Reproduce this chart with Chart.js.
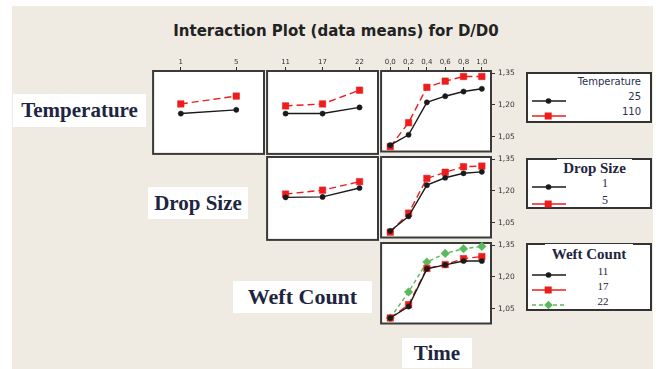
<!DOCTYPE html>
<html>
<head>
<meta charset="utf-8">
<script src="https://cdn.jsdelivr.net/npm/chart.js@4/dist/chart.umd.min.js"></script>
<style>
  html, body { margin:0; padding:0; background:#fff; }
  body { width:656px; height:369px; position:relative; overflow:hidden; }
  #bg { position:absolute; left:12px; top:6px; width:641px; height:363px; background:#efebe2; }
  canvas { position:absolute; }
  .lbl { position:absolute; background:#fff; font-family:"Liberation Serif", serif; font-weight:bold; color:#1e2540;
         display:flex; align-items:center; justify-content:center; white-space:nowrap; }
  #title { position:absolute; left:0; width:672px; top:22px; text-align:center; font-family:"DejaVu Sans", sans-serif;
           font-weight:bold; font-size:15px; color:#222; }
  .leg { position:absolute; border:2px solid #333; background:#fff; box-sizing:border-box; }
  .legt { position:absolute; white-space:nowrap; }
  .sw { position:absolute; }
</style>
</head>
<body>
<div id="bg"></div>
<div id="title">Interaction Plot (data means) for D/D0</div>

<div class="lbl" style="left:13px;top:94px;width:133px;height:33px;font-size:21px;">Temperature</div>
<div class="lbl" style="left:148px;top:187px;width:100px;height:32px;font-size:21px;">Drop Size</div>
<div class="lbl" style="left:233px;top:281px;width:139px;height:32px;font-size:22px;">Weft Count</div>
<div class="lbl" style="left:402px;top:338px;width:70px;height:30px;font-size:21px;">Time</div>

<div id="legends"></div>

<script>
// ---------------- data ----------------
const dropSizeLabels = ['1', '5'];
const weftLabels = ['11', '17', '22'];
const timeLabels = ['0,0', '0,2', '0,4', '0,6', '0,8', '1,0'];
const yTicks = [1.05, 1.20, 1.35];

const temperatureLevels = ['25', '110'];
const dropSizeLevels = ['1', '5'];
const weftLevels = ['11', '17', '22'];

// Row 1: Temperature series
const temp25_byDrop  = [1.165, 1.182];
const temp110_byDrop = [1.209, 1.245];
const temp25_byWeft  = [1.165, 1.165, 1.193];
const temp110_byWeft = [1.200, 1.209, 1.272];
const temp25_byTime  = [1.010, 1.059, 1.212, 1.241, 1.263, 1.276];
const temp110_byTime = [1.003, 1.116, 1.283, 1.312, 1.334, 1.334];

// Row 2: Drop Size series
const drop1_byWeft = [1.175, 1.177, 1.218];
const drop5_byWeft = [1.190, 1.208, 1.247];
const drop1_byTime = [1.011, 1.080, 1.227, 1.262, 1.283, 1.290];
const drop5_byTime = [1.005, 1.095, 1.259, 1.288, 1.314, 1.317];

// Row 3: Weft Count series
const weft11_byTime = [1.006, 1.060, 1.238, 1.257, 1.275, 1.275];
const weft17_byTime = [1.006, 1.069, 1.240, 1.258, 1.286, 1.296];
const weft22_byTime = [1.006, 1.129, 1.270, 1.311, 1.333, 1.344];

// ---------------- styles ----------------
const YMIN = 0.98, YMAX = 1.36;
const STY = [
  { color:'#1a1a1a', dash:[], legDash:[], point:'circle', r:2.6 },
  { color:'#ee1d1d', dash:[7,4], legDash:[], point:'rect', r:4.6 },
  { color:'#5cb85c', dash:[4,3], legDash:[4,3], point:'rectRot', r:4.3 }
];
const COLS = [150, 264, 378];
const COLW = [114, 114, 113];
const ROWS = [71, 157, 243];
const ROWH = 86;
const PADL = 2, PADB = 2, TOPH = 18, RIGHTW = 34;

const framePlugin = {
  id: 'frame',
  beforeDatasetsDraw(chart) {
    const a = chart.chartArea, ctx = chart.ctx;
    ctx.save();
    ctx.fillStyle = '#ffffff';
    ctx.fillRect(a.left, a.top, a.right - a.left, a.bottom - a.top);
    ctx.strokeStyle = '#3a3a3a';
    ctx.lineWidth = 2;
    ctx.strokeRect(a.left, a.top, a.right - a.left, a.bottom - a.top);
    ctx.restore();
  }
};

function ds(label, data, i) {
  const s = STY[i];
  return {
    label, data,
    borderColor: s.color, backgroundColor: s.color,
    borderWidth: 1.4, borderDash: s.dash,
    pointStyle: s.point, pointRadius: s.r, pointBorderWidth: 0.5,
    pointBackgroundColor: s.color, pointBorderColor: s.color,
    tension: 0, clip: false
  };
}

function panel(col, row, xLabels, datasets, showTop, showRight) {
  const left = COLS[col], top = ROWS[row], w = COLW[col], h = ROWH;
  const c = document.createElement('canvas');
  const cw = w + PADL + RIGHTW, ch = h + TOPH + PADB;
  c.width = cw; c.height = ch;
  c.style.left = (left - PADL) + 'px';
  c.style.top = (top - TOPH) + 'px';
  c.style.width = cw + 'px'; c.style.height = ch + 'px';
  document.body.appendChild(c);
  new Chart(c, {
    type: 'line',
    data: { labels: xLabels, datasets },
    options: {
      responsive: false, animation: false, devicePixelRatio: 1,
      layout: { padding: { left: PADL, right: 0, top: 0, bottom: PADB } },
      plugins: { legend: { display: false }, tooltip: { enabled: false } },
      scales: {
        x: {
          type: 'category', position: 'top', offset: true,
          grid: { display: showTop, drawOnChartArea: false, offset: false, tickLength: 4, color: '#333', lineWidth: 1 },
          border: { display: false },
          ticks: { display: showTop, autoSkip: false, maxRotation: 0, padding: 1, color: '#333',
                   font: { family: 'DejaVu Sans', size: 7 } },
          afterFit: s => { s.height = TOPH; }
        },
        y: {
          type: 'linear', position: 'right', min: YMIN, max: YMAX,
          grid: { display: showRight, drawOnChartArea: false, tickLength: 4, color: '#333', lineWidth: 1 },
          border: { display: false },
          ticks: { display: showRight, padding: 3, color: '#333', font: { family: 'DejaVu Sans', size: 7.5 },
                   callback: v => v.toFixed(2).replace('.', ',') },
          afterBuildTicks: s => { s.ticks = yTicks.map(v => ({ value: v })); },
          afterFit: s => { s.width = RIGHTW; }
        }
      }
    },
    plugins: [framePlugin]
  });
}

// Row 1: Temperature
panel(0, 0, dropSizeLabels, [ds(temperatureLevels[0], temp25_byDrop, 0), ds(temperatureLevels[1], temp110_byDrop, 1)], true, false);
panel(1, 0, weftLabels, [ds(temperatureLevels[0], temp25_byWeft, 0), ds(temperatureLevels[1], temp110_byWeft, 1)], true, false);
panel(2, 0, timeLabels, [ds(temperatureLevels[0], temp25_byTime, 0), ds(temperatureLevels[1], temp110_byTime, 1)], true, true);
// Row 2: Drop Size
panel(1, 1, weftLabels, [ds(dropSizeLevels[0], drop1_byWeft, 0), ds(dropSizeLevels[1], drop5_byWeft, 1)], false, false);
panel(2, 1, timeLabels, [ds(dropSizeLevels[0], drop1_byTime, 0), ds(dropSizeLevels[1], drop5_byTime, 1)], false, true);
// Row 3: Weft Count
panel(2, 2, timeLabels, [ds(weftLevels[0], weft11_byTime, 0), ds(weftLevels[1], weft17_byTime, 1), ds(weftLevels[2], weft22_byTime, 2)], false, true);

// ---------------- legends (HTML) ----------------
function swatch(i) {
  const s = STY[i];
  const dash = s.legDash.length ? `stroke-dasharray="${s.legDash.join(',')}"` : '';
  let m;
  if (s.point === 'circle') m = `<circle cx="16.5" cy="5" r="2.8" fill="${s.color}"/>`;
  else if (s.point === 'rect') m = `<rect x="12.7" y="1.5" width="7" height="7" fill="${s.color}"/>`;
  else m = `<polygon points="16.5,0.7 20.8,5 16.5,9.3 12.2,5" fill="${s.color}"/>`;
  return `<svg width="34" height="10" viewBox="0 0 34 10"><line x1="0" y1="5" x2="34" y2="5" stroke="${s.color}" stroke-width="1.4" ${dash}/>${m}</svg>`;
}
const L = document.getElementById('legends');
function legend(box, title, titleStyle, levels, entryYs, textStyle) {
  let html = `<div class="leg" style="left:${box[0]}px;top:${box[1]}px;width:${box[2]}px;height:${box[3]}px;"></div>`;
  html += `<div class="legt" style="${titleStyle}">${title}</div>`;
  levels.forEach((lv, i) => {
    html += `<div class="sw" style="left:532px;top:${entryYs[i] - 5}px;">${swatch(i)}</div>`;
    html += `<div class="legt" style="top:${entryYs[i] - 7}px;height:14px;line-height:14px;${textStyle}">${lv}</div>`;
  });
  L.insertAdjacentHTML('beforeend', html);
}
legend([526, 72, 126, 51], 'Temperature',
  'right:15px;top:76px;font-family:DejaVu Sans, sans-serif;font-size:10px;color:#2a3050;',
  temperatureLevels, [97, 112],
  'right:15px;font-family:DejaVu Sans, sans-serif;font-size:10px;color:#2a3050;');
legend([526, 158, 126, 51], 'Drop Size',
  'left:557px;width:75px;top:159px;height:19px;line-height:19px;text-align:center;background:#fff;font-family:Liberation Serif, serif;font-weight:bold;font-size:15px;color:#1e2540;',
  dropSizeLevels, [183, 200],
  'left:585px;width:40px;text-align:center;font-family:Liberation Serif, serif;font-size:12px;color:#1e2540;');
legend([526, 243, 126, 68], 'Weft Count',
  'left:545px;width:88px;top:244px;height:20px;line-height:20px;text-align:center;background:#fff;font-family:Liberation Serif, serif;font-weight:bold;font-size:15px;color:#1e2540;',
  weftLevels, [271, 286, 301],
  'left:583px;width:40px;text-align:center;font-family:Liberation Serif, serif;font-size:11px;color:#1e2540;');
</script>
</body>
</html>
